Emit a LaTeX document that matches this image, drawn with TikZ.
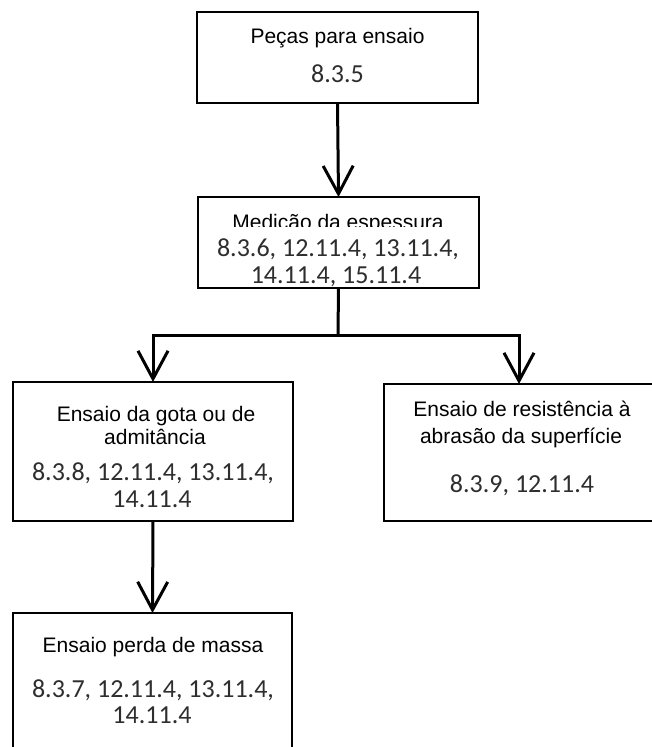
\documentclass[tikz,border=0pt]{standalone}
\usepackage{fontspec}
\setmainfont{Liberation Sans}
\newfontfamily\numfont{Carlito}
\usetikzlibrary{arrows.meta}
\begin{document}
\begin{tikzpicture}[x=1pt,y=-1pt,
  box/.style={draw=black, line width=2.8pt, rectangle, inner sep=0pt, outer sep=0pt, fill=white},
  conn/.style={draw=black, line width=3pt},
  arr/.style={conn, -{Straight Barb[length=28pt,width=30pt]}},
  head/.style={anchor=base, inner sep=0pt, font=\fontsize{21}{24}\selectfont, text=black},
  num/.style={anchor=base, inner sep=0pt, font=\numfont\fontsize{26}{29}\selectfont, text=black!82},
]
\useasboundingbox (0,0) rectangle (651,747);
% boxes
\node[box, minimum width=281pt, minimum height=91pt] (b1) at (337.5,57.5) {};
\node[box, minimum width=281pt, minimum height=91pt] (b2) at (338.5,242.5) {};
\node[box, minimum width=280pt, minimum height=139pt] (b3) at (153,451.5) {};
\node[box, minimum width=270pt, minimum height=137pt] (b4) at (519,452.5) {};
\node[box, minimum width=279pt, minimum height=157pt] (b5) at (152.5,691.5) {};
% texts
\node[head] (t1) at (337.5,43) {Peças para ensaio};
\node[num] (n1) at (337.5,82) {8.3.5};
\node[head] (t2) at (338,229) {Medição da espessura};
\node[num, fill=white, text height=29pt, text depth=4pt, inner xsep=3pt] (n2a) at (338,256) {8.3.6, 12.11.4, 13.11.4,};
\node[num] (n2b) at (336,283) {14.11.4, 15.11.4};
\node[head] (t3a) at (156,421) {Ensaio da gota ou de};
\node[head] (t3b) at (155,444) {admitância};
\node[num] (n3a) at (153,480) {8.3.8, 12.11.4, 13.11.4,};
\node[num] (n3b) at (152,507) {14.11.4};
\node[head] (t4a) at (522,416) {Ensaio de resistência à};
\node[head] (t4b) at (521,443) {abrasão da superfície};
\node[num] (n4) at (522,492) {8.3.9, 12.11.4};
\node[head] (t5) at (153,652) {Ensaio perda de massa};
\node[num] (n5a) at (153,697) {8.3.7, 12.11.4, 13.11.4,};
\node[num] (n5b) at (152,723) {14.11.4};
% connectors
\coordinate (split) at (338,335);
\draw[arr] (b1.south) -- (b2.north);
\draw[conn] (b2.south) -- (split);
\draw[arr] (split) -| (b3.north);
\draw[arr] (split) -| (b4.north);
\draw[arr] (b3.south) -- (b5.north);
\end{tikzpicture}
\end{document}
